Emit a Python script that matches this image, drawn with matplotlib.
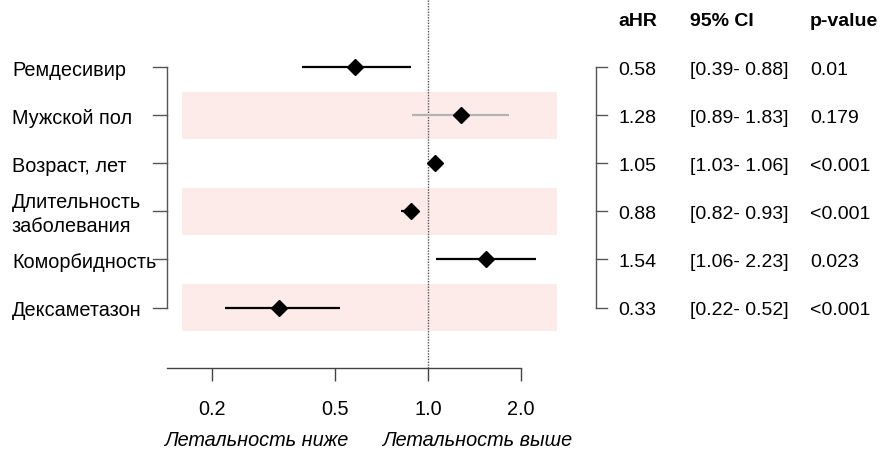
import matplotlib
matplotlib.use("Agg")
import matplotlib.pyplot as plt
import matplotlib.transforms as mtransforms
import numpy as np

plt.rcParams['font.family'] = ['Liberation Sans', 'DejaVu Sans']

labels = ["Ремдесивир", "Мужской пол", "Возраст, лет",
          "Длительность\nзаболевания", "Коморбидность", "Дексаметазон"]
ahr = [0.58, 1.28, 1.05, 0.88, 1.54, 0.33]
ci_lo = [0.39, 0.89, 1.03, 0.82, 1.06, 0.22]
ci_hi = [0.88, 1.83, 1.06, 0.93, 2.23, 0.52]
pvals = ["0.01", "0.179", "<0.001", "<0.001", "0.023", "<0.001"]
significant = [True, False, True, True, True, True]
xticks = [0.2, 0.5, 1.0, 2.0]
xtick_labels = ["0.2", "0.5", "1.0", "2.0"]
headers = ["aHR", "95% CI", "p-value"]
axis_notes = ["Летальность ниже", "Летальность выше"]

W, H = 880, 452
fig = plt.figure(figsize=(W / 100, H / 100), dpi=100)
axis_px = 369
ax = fig.add_axes([0, 1 - axis_px / H, 1, axis_px / H])
ax.set_xscale('log')
px0, ppd = 428, 309  # px of 1.0, px per decade
ax.set_xlim(10 ** ((0 - px0) / ppd), 10 ** ((W - px0) / ppd))
row0, rowh = 68, 48.1
ax.set_ylim((axis_px - row0) / rowh, -row0 / rowh)

for s in ['top', 'right', 'left']:
    ax.spines[s].set_visible(False)
ax.spines['bottom'].set_bounds(10 ** ((167 - px0) / ppd), 2.0)
ax.spines['bottom'].set_color('#444444')
ax.spines['bottom'].set_linewidth(1.0)
ax.set_xticks(xticks)
ax.set_xticklabels([])
ax.xaxis.set_minor_locator(matplotlib.ticker.NullLocator())
ax.tick_params(axis='x', length=9.5, width=1.0, color='#444444', direction='out')
ax.set_yticks([])

n = len(labels)
rows = np.arange(n)
ytr = ax.get_yaxis_transform()

for i in rows:
    if i % 2 == 1:
        ax.axhspan(i - 0.49, i + 0.49, xmin=182 / W, xmax=557 / W,
                   color='#fdebea', lw=0, zorder=0)

ax.axvline(1.0, ymin=0, ymax=1, color='#555555', lw=1.0, ls=(0, (1, 1)), zorder=1)

for i in rows:
    col = 'black' if significant[i] else '#b3b3b3'
    ax.plot([ci_lo[i], ci_hi[i]], [i, i], color=col, lw=1.6, zorder=2,
            solid_capstyle='butt')
    ax.plot(ahr[i], i, marker='D', ms=8.5, color='black', zorder=3)

bc = '#555555'
ax.plot([167 / W, 167 / W], [0, n - 1], transform=ytr, color=bc, lw=1.0, clip_on=False)
ax.plot([596 / W, 596 / W], [0, n - 1], transform=ytr, color=bc, lw=1.0, clip_on=False)
for i in rows:
    ax.plot([153 / W, 167 / W], [i, i], transform=ytr, color=bc, lw=1.0, clip_on=False)
    ax.plot([596 / W, 607 / W], [i, i], transform=ytr, color=bc, lw=1.0, clip_on=False)

fs = 14.3
fsr = 14.0
dy = 0.05
for i in rows:
    ax.text(12 / W, i + dy, labels[i], transform=ytr, ha='left', va='center',
            fontsize=fs, linespacing=1.3, clip_on=False)
    ax.text(618 / W, i + dy, f"{ahr[i]:.2f}", transform=ytr, ha='left', va='center',
            fontsize=fsr, clip_on=False)
    ax.text(690 / W, i + dy, f"[{ci_lo[i]:.2f}- {ci_hi[i]:.2f}]", transform=ytr,
            ha='left', va='center', fontsize=fsr, clip_on=False)
    ax.text(810 / W, i + dy, pvals[i], transform=ytr, ha='left', va='center',
            fontsize=fsr, clip_on=False)

for x, h in zip([618, 690, 810], headers):
    fig.text(x / W, 1 - 21 / H, h, ha='left', va='center', fontsize=fsr,
             fontweight='bold')

tick_tr = mtransforms.blended_transform_factory(ax.transData, fig.transFigure)
for t, tl in zip(xticks, xtick_labels):
    ax.text(t, 1 - 410 / H, tl, transform=tick_tr, ha='center', va='center',
            fontsize=fs, clip_on=False)

fig.text(348 / W, 1 - 441 / H, axis_notes[0], ha='right', va='center',
         fontsize=fs, style='italic')
fig.text(382 / W, 1 - 441 / H, axis_notes[1], ha='left', va='center',
         fontsize=fs, style='italic')

fig.savefig("out.png", dpi=100)
